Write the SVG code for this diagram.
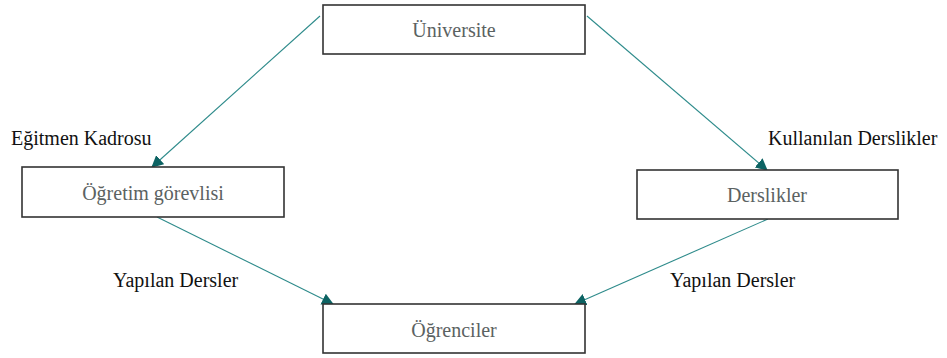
<svg xmlns="http://www.w3.org/2000/svg" width="947" height="358" viewBox="0 0 947 358">
  <style>
    .box { fill: #ffffff; stroke: #333333; stroke-width: 1.6; }
    text { font-family: 'Liberation Serif', 'Times New Roman', serif; font-size: 20px; }
    .node-text { fill: #5b6262; text-anchor: middle; }
    .label { fill: #111111; }
    .edge { stroke: #2e8b8b; stroke-width: 1.1; fill: none; marker-end: url(#arrow); }
  </style>
  <defs>
    <marker id="arrow" viewBox="0 0 12 12" refX="11" refY="6" markerWidth="12" markerHeight="12" markerUnits="userSpaceOnUse" orient="auto">
      <path d="M0,0 L12,6 L0,12 Z" fill="#0d6363"/>
    </marker>
  </defs>
  <rect width="947" height="358" fill="#ffffff"/>

  <g id="connectors">
    <line class="edge" x1="320" y1="16" x2="152" y2="167"/>
    <line class="edge" x1="587" y1="16" x2="767" y2="170"/>
    <line class="edge" x1="157" y1="217" x2="333" y2="304"/>
    <line class="edge" x1="768" y1="219" x2="575" y2="304"/>
  </g>

  <g id="node-universite">
    <rect class="box" x="323" y="5" width="262" height="49"/>
    <text class="node-text" x="454" y="37">Üniversite</text>
  </g>
  <g id="node-ogretim-gorevlisi">
    <rect class="box" x="22" y="167" width="262" height="50"/>
    <text class="node-text" x="153" y="200">Öğretim görevlisi</text>
  </g>
  <g id="node-derslikler">
    <rect class="box" x="637" y="170" width="261" height="49"/>
    <text class="node-text" x="767" y="202">Derslikler</text>
  </g>
  <g id="node-ogrenciler">
    <rect class="box" x="323" y="304" width="262" height="49"/>
    <text class="node-text" x="454" y="337">Öğrenciler</text>
  </g>

  <g id="edge-labels">
    <text class="label" x="11" y="145">Eğitmen Kadrosu</text>
    <text class="label" x="768" y="145">Kullanılan Derslikler</text>
    <text class="label" x="113" y="287">Yapılan Dersler</text>
    <text class="label" x="670" y="287">Yapılan Dersler</text>
  </g>
</svg>
